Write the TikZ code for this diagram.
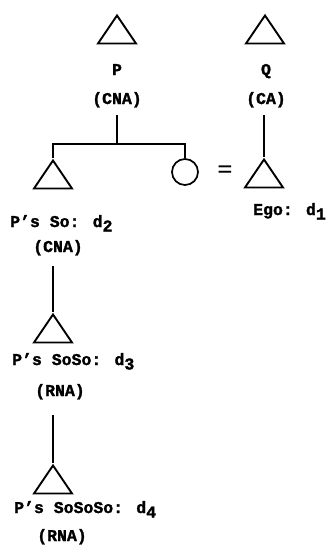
\documentclass[tikz,border=0pt]{standalone}
\usepackage{fontspec}
\setmainfont{Liberation Mono}[BoldFeatures={FakeBold=1.6}]
\newfontfamily\eqfont{Liberation Serif}
\usetikzlibrary{shapes.geometric}
\newcommand\dsub[1]{\raisebox{-4.5pt}{#1}}
\begin{document}
\begin{tikzpicture}[x=1pt,y=-1pt,
 person/.style={isosceles triangle, shape border rotate=90, isosceles triangle stretches,
   minimum width=38pt, minimum height=28pt, inner sep=0pt, draw, line width=1.9pt, anchor=apex},
 fem/.style={circle, draw, line width=1.7pt, minimum size=26pt, inner sep=0pt},
 lab/.style={font=\fontsize{16.5}{16.5}\selectfont\bfseries, inner sep=0pt},
 kin/.style={line width=1.8pt}]
\useasboundingbox (0,0) rectangle (328,546);
% persons
\node[person] (P) at (117,13) {};
\node[person] (Q) at (265,13) {};
\node[person] (S2t) at (53,158) {};
\node[fem] (D) at (185,172) {};
\node[person] (E) at (264,157) {};
\node[person] (S3t) at (53,312) {};
\node[person] (S4t) at (53,463) {};
% labels
\node[lab, anchor=base] (Pn) at (117,75) {P};
\node[lab, anchor=base] (Pc) at (117,104) {(CNA)};
\node[lab, anchor=base] (Qn) at (266,75) {Q};
\node[lab, anchor=base] (Qc) at (266,104) {(CA)};
\node[lab, anchor=base west] (S2) at (10,227) {P's So: d\dsub{2}};
\node[lab, anchor=base] (S2c) at (58,252) {(CNA)};
\node[lab, anchor=base west] (Eg) at (253,215) {Ego: d\dsub{1}};
\node[lab, anchor=base west] (S3) at (12,365) {P's SoSo: d\dsub{3}};
\node[lab, anchor=base] (S3c) at (60,396) {(RNA)};
\node[lab, anchor=base west] (S4) at (14,513) {P's SoSoSo: d\dsub{4}};
\node[lab, anchor=base] (S4c) at (62,541) {(RNA)};
\node[inner sep=0pt, font=\eqfont\bfseries\fontsize{27}{27}\selectfont] (eq) at (225,172.5) {=};
% connectors
\coordinate (Pstem) at (117,115);
\coordinate (bar) at (117,144);
\draw[kin] (Pstem) -- (bar);
\draw[kin] (S2t.apex) |- (bar) -| (D.north);
\coordinate (Qstem) at (264,115);
\draw[kin] (Qstem) -- (E.apex);
\coordinate (S2stem) at (53,266);
\draw[kin] (S2stem) -- (S3t.apex);
\coordinate (S3stem) at (53,415);
\draw[kin] (S3stem) -- (S4t.apex);
\end{tikzpicture}
\end{document}
